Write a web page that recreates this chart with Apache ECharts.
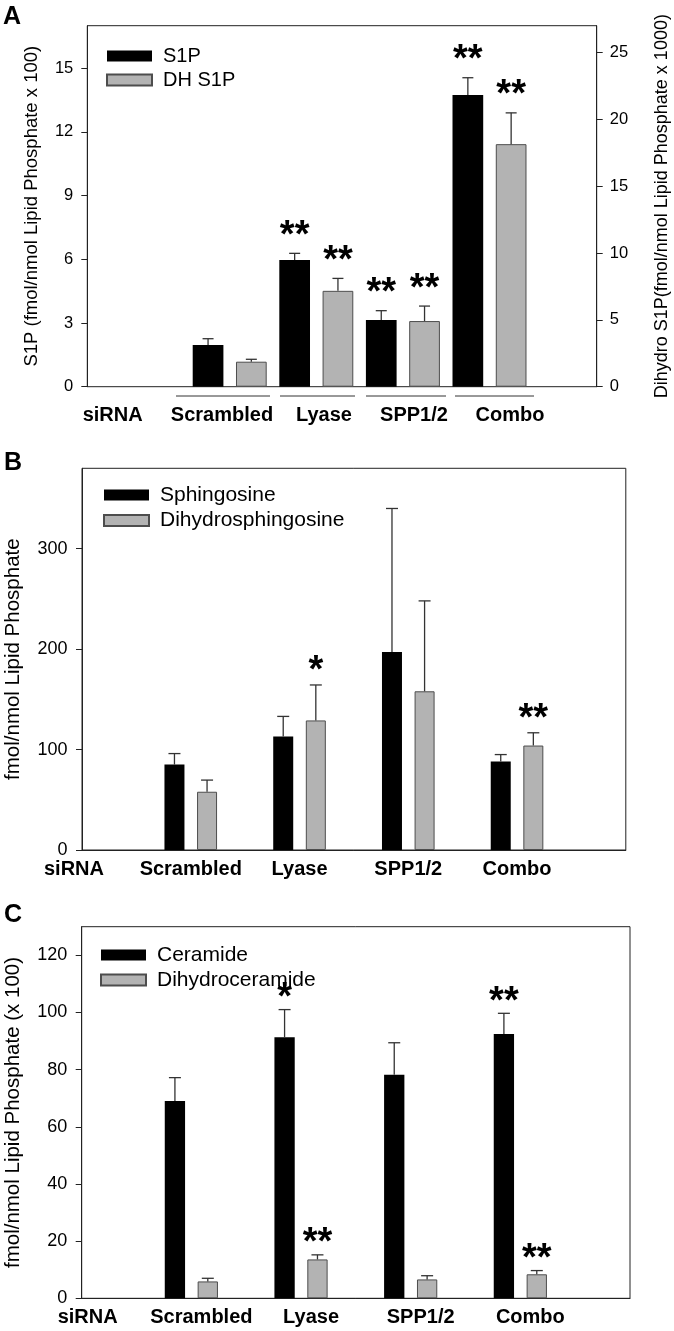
<!DOCTYPE html>
<html><head><meta charset="utf-8">
<script src="https://cdn.jsdelivr.net/npm/echarts@6/dist/echarts.min.js"></script>
<style>html,body{margin:0;padding:0;background:#fff}#c{width:674px;height:1331px}</style>
</head><body><div id="c"></div>
<script>
// ---------- data ----------
const categories = ['siRNA', 'Scrambled', 'Lyase', 'SPP1/2', 'Combo', ''];
// Panel A
const s1p      = [null, 1.96, 5.97, 3.14, 13.74];
const s1pErr   = [null, 0.30, 0.31, 0.44, 0.81];
const s1pSig   = ['', '', '**', '**', '**'];
const dhS1p    = [null, 1.87, 7.17, 4.91, 18.14];
const dhS1pErr = [null, 0.18, 0.93, 1.12, 2.34];
const dhS1pSig = ['', '', '**', '**', '**'];
const ticksA      = [0, 3, 6, 9, 12, 15];
const ticksARight = [0, 5, 10, 15, 20, 25];
// Panel B
const sph      = [null, 85, 113, 197, 88];
const sphErr   = [null, 11, 20, 143, 7];
const sphSig   = ['', '', '', '', ''];
const dhSph    = [null, 58, 129, 158, 104];
const dhSphErr = [null, 11.6, 35.3, 90, 12.7];
const dhSphSig = ['', '', '*', '', '**'];
const ticksB = [0, 100, 200, 300];
// Panel C
const cer      = [null, 69.0, 91.3, 78.2, 92.5];
const cerErr   = [null, 8.2, 9.7, 11.2, 7.2];
const cerSig   = ['', '', '*', '', '**'];
const dhCer    = [null, 5.9, 13.6, 6.6, 8.4];
const dhCerErr = [null, 1.1, 1.6, 1.3, 1.3];
const dhCerSig = ['', '', '**', '', '**'];
const ticksC = [0, 20, 40, 60, 80, 100, 120];

// ---------- style ----------
const FONT = "'Liberation Sans', Arial, Helvetica, sans-serif";
const AX = '#222';
const BLACK = '#000';
const GRAY = '#b3b3b3';
const GRAYB = '#4d4d4d';

function errData(vals, errs) {
  const out = [];
  vals.forEach((v, i) => { if (v != null) out.push([i, v, errs[i]]); });
  return out;
}
function errRender(vals, sigs, offset, capW, sigGap) {
  return function (params, api) {
    const i = api.value(0), v = api.value(1), e = api.value(2);
    const base = api.coord([i, v]);
    const top = api.coord([i, v + e]);
    const x = base[0] + offset;
    const ls = { stroke: '#333', lineWidth: 1.3 };
    const ch = [
      { type: 'line', shape: { x1: x, y1: base[1], x2: x, y2: top[1] }, style: ls },
      { type: 'line', shape: { x1: x - capW / 2, y1: top[1], x2: x + capW / 2, y2: top[1] }, style: ls }
    ];
    const s = sigs[i];
    if (s) ch.push({ type: 'text', style: { text: s, x: x, y: top[1] - sigGap, align: 'center', verticalAlign: 'middle',
      font: 'bold 38px ' + FONT, fill: '#000' } });
    return { type: 'group', children: ch };
  };
}
function valAxis(grid, max, ticks, pos, name, nameGap, nameSize, labelSize, margin) {
  return {
    gridIndex: grid, type: 'value', min: 0, max: max, position: pos,
    axisLine: { show: true, lineStyle: { color: AX, width: 1 } },
    axisTick: { show: true, inside: false, length: 6, customValues: ticks, lineStyle: { color: AX } },
    axisLabel: { customValues: ticks, fontSize: labelSize, color: '#000', margin: margin, fontFamily: FONT },
    splitLine: { show: false },
    name: name, nameLocation: 'middle', nameRotate: 90, nameGap: nameGap, nameMoveOverlap: false,
    nameTextStyle: { fontSize: nameSize, color: '#000', fontFamily: FONT }
  };
}
function catAxis(grid, pad, firstPad) {
  const base = { fontSize: 20, fontWeight: 'bold', color: '#000', fontFamily: FONT };
  return {
    gridIndex: grid, type: 'category', data: categories, boundaryGap: false,
    axisLine: { show: true, lineStyle: { color: AX } }, axisTick: { show: false },
    axisLabel: Object.assign({ interval: 0, margin: 9, padding: pad,
      formatter: (v, i) => i === 0 ? '{f|' + v + '}' : v,
      rich: { f: Object.assign({ padding: firstPad }, base) } }, base),
    splitLine: { show: false }
  };
}
function legend(names, left, top, gap, size) {
  return {
    data: names, orient: 'vertical', left: left, top: top, padding: 0, itemWidth: 45, itemHeight: 11, itemGap: gap,
    icon: 'rect', selectedMode: false,
    textStyle: { fontSize: size, color: '#000', fontFamily: FONT, padding: [0, 0, 0, 6] }
  };
}

// Panel A geometry (labels / underlines are placed by hand like the original figure)
const labelXA = [112.7, 222, 324, 414, 510];
const underA = [[176, 270], [280, 355], [366, 446], [455, 534]];

const graphic = [];
categories.slice(0, 5).forEach((c, i) => {
  graphic.push({ type: 'text', x: labelXA[i], y: 415, style: { text: c, align: 'center', verticalAlign: 'middle', font: 'bold 20px ' + FONT, fill: '#000' } });
});
underA.forEach(u => graphic.push({ type: 'line', shape: { x1: u[0], y1: 396, x2: u[1], y2: 396 }, style: { stroke: '#333', lineWidth: 1 } }));
[['A', 12, 17.5], ['B', 13, 463.3], ['C', 13, 915]].forEach(p => {
  graphic.push({ type: 'text', x: p[1], y: p[2], style: { text: p[0], align: 'center', verticalAlign: 'middle', font: 'bold 25px ' + FONT, fill: '#000' } });
});

const bwA = 30.7, bgA = 0.41, offA = (bwA + bwA * bgA) / 2;
const bwB = 20, bgB = 0.63, offB = (bwB + bwB * bgB) / 2;
const bwC = 20.3, bgC = 0.62, offC = (bwC + bwC * bgC) / 2;

const option = {
  backgroundColor: '#fff',
  animation: false,
  graphic: graphic,
  grid: [
    { left: 87.3, top: 25.7, width: 509.4, height: 361, show: true, borderColor: AX, borderWidth: 1, backgroundColor: 'transparent', outerBoundsMode: 'none' },
    { left: 143.1, top: 25.7, width: 433, height: 361, show: false, outerBoundsMode: 'none' },
    { left: 82, top: 468.3, width: 543.8, height: 381.7, show: true, borderColor: AX, borderWidth: 1, backgroundColor: 'transparent', outerBoundsMode: 'none' },
    { left: 81.7, top: 926.7, width: 548.3, height: 371.6, show: true, borderColor: AX, borderWidth: 1, backgroundColor: 'transparent', outerBoundsMode: 'none' }
  ],
  xAxis: [
    { gridIndex: 0, type: 'value', min: 0, max: 1, show: false },
    { gridIndex: 1, type: 'category', data: categories, boundaryGap: false, show: false },
    catAxis(2, [0, 0, 0, 0], [0, 16, 0, 0]),
    catAxis(3, [0, 0, 0, 20], [0, 8, 0, 0])
  ],
  yAxis: [
    valAxis(0, 17, ticksA, 'left', 'S1P (fmol/nmol Lipid Phosphate x 100)', 46, 18.5, 16.5, 14),
    valAxis(0, 27, ticksARight, 'right', 'Dihydro S1P(fmol/nmol Lipid Phosphate x 1000)', 56, 18, 16.5, 13),
    { gridIndex: 1, type: 'value', min: 0, max: 17, show: false },
    { gridIndex: 1, type: 'value', min: 0, max: 27, show: false },
    valAxis(2, 380, ticksB, 'left', 'fmol/nmol Lipid Phosphate', 58, 20.5, 18, 14.5),
    valAxis(3, 130, ticksC, 'left', 'fmol/nmol Lipid Phosphate (x 100)', 58, 20.5, 18, 14.5)
  ],
  legend: [
    legend(['S1P', 'DH S1P'], 106, 46, 4, 20),
    legend(['Sphingosine', 'Dihydrosphingosine'], 103, 484.5, 4.5, 21),
    legend(['Ceramide', 'Dihydroceramide'], 100, 944.5, 4, 21)
  ],
  series: [
    // Panel A
    { type: 'bar', name: 'S1P', xAxisIndex: 1, yAxisIndex: 2, data: s1p, barWidth: bwA, barGap: (bgA * 100) + '%', clip: false,
      itemStyle: { color: BLACK, borderColor: BLACK, borderWidth: 0 } },
    { type: 'bar', name: 'DH S1P', xAxisIndex: 1, yAxisIndex: 3, data: dhS1p, barWidth: bwA, barGap: (bgA * 100) + '%', clip: false,
      itemStyle: { color: GRAY, borderColor: GRAYB, borderWidth: 1 } },
    { type: 'custom', xAxisIndex: 1, yAxisIndex: 2, data: errData(s1p, s1pErr), renderItem: errRender(s1p, s1pSig, -offA, 11, 17), clip: false, z: 5 },
    { type: 'custom', xAxisIndex: 1, yAxisIndex: 3, data: errData(dhS1p, dhS1pErr), renderItem: errRender(dhS1p, dhS1pSig, offA, 11, 17), clip: false, z: 5 },
    // Panel B
    { type: 'bar', name: 'Sphingosine', xAxisIndex: 2, yAxisIndex: 4, data: sph, barWidth: bwB, barGap: (bgB * 100) + '%', clip: false,
      itemStyle: { color: BLACK, borderColor: BLACK, borderWidth: 0 } },
    { type: 'bar', name: 'Dihydrosphingosine', xAxisIndex: 2, yAxisIndex: 4, data: dhSph, barWidth: bwB, barGap: (bgB * 100) + '%', clip: false,
      itemStyle: { color: GRAY, borderColor: GRAYB, borderWidth: 1 } },
    { type: 'custom', xAxisIndex: 2, yAxisIndex: 4, data: errData(sph, sphErr), renderItem: errRender(sph, sphSig, -offB, 12, 13.5), clip: false, z: 5 },
    { type: 'custom', xAxisIndex: 2, yAxisIndex: 4, data: errData(dhSph, dhSphErr), renderItem: errRender(dhSph, dhSphSig, offB, 12, 13.5), clip: false, z: 5 },
    // Panel C
    { type: 'bar', name: 'Ceramide', xAxisIndex: 3, yAxisIndex: 5, data: cer, barWidth: bwC, barGap: (bgC * 100) + '%', clip: false,
      itemStyle: { color: BLACK, borderColor: BLACK, borderWidth: 0 } },
    { type: 'bar', name: 'Dihydroceramide', xAxisIndex: 3, yAxisIndex: 5, data: dhCer, barWidth: bwC, barGap: (bgC * 100) + '%', clip: false,
      itemStyle: { color: GRAY, borderColor: GRAYB, borderWidth: 1 } },
    { type: 'custom', xAxisIndex: 3, yAxisIndex: 5, data: errData(cer, cerErr), renderItem: errRender(cer, cerSig, -offC, 12, 11), clip: false, z: 5 },
    { type: 'custom', xAxisIndex: 3, yAxisIndex: 5, data: errData(dhCer, dhCerErr), renderItem: errRender(dhCer, dhCerSig, offC, 12, 11), clip: false, z: 5 }
  ]
};
const chart = echarts.init(document.getElementById('c'), null, { renderer: 'canvas' });
chart.setOption(option);
</script></body></html>
